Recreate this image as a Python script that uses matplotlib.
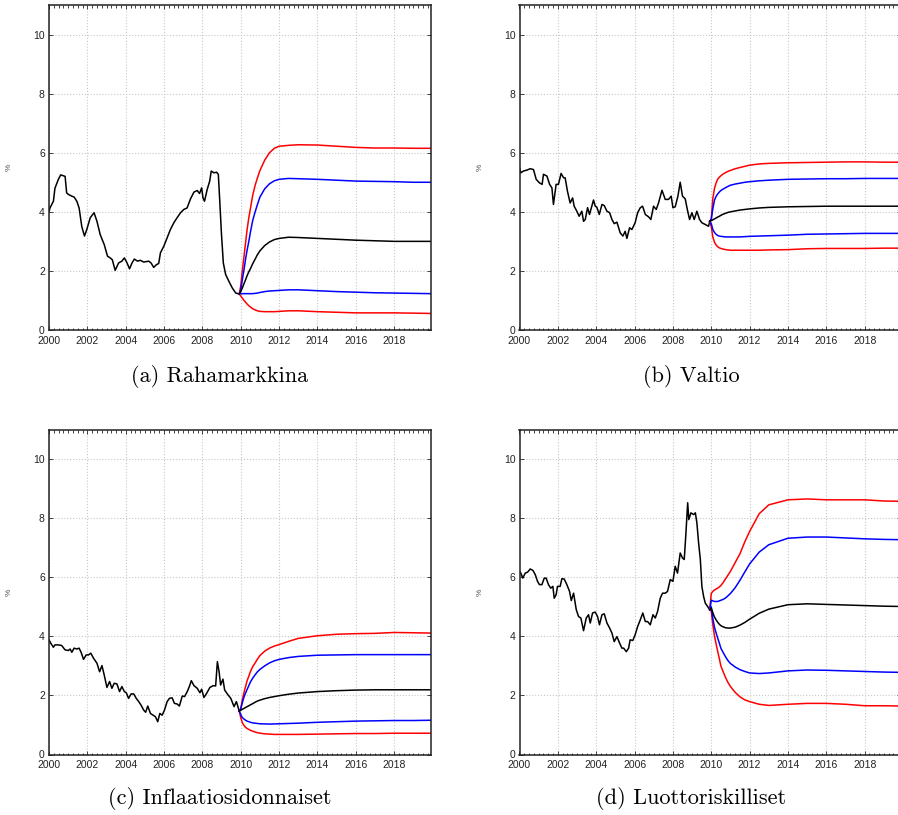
import matplotlib
matplotlib.use("Agg")
import matplotlib.pyplot as plt
from matplotlib.ticker import MultipleLocator

# Historialliset korot (vuosi, %)
hist_a = [(2000.0, 4.0), (2000.05, 4.13), (2000.23, 4.36), (2000.31, 4.8), (2000.49, 5.1),
          (2000.61, 5.25), (2000.84, 5.2), (2000.92, 4.64), (2001.01, 4.59), (2001.19, 4.53),
          (2001.31, 4.5), (2001.45, 4.36), (2001.57, 4.13), (2001.71, 3.5), (2001.85, 3.18),
          (2001.97, 3.4), (2002.15, 3.8), (2002.35, 3.97), (2002.5, 3.68), (2002.67, 3.23),
          (2002.88, 2.89), (2003.05, 2.5), (2003.19, 2.44), (2003.3, 2.38), (2003.45, 2.02),
          (2003.63, 2.27), (2003.8, 2.33), (2003.93, 2.44), (2004.07, 2.27), (2004.2, 2.07),
          (2004.33, 2.27), (2004.45, 2.4), (2004.62, 2.33), (2004.76, 2.36), (2004.94, 2.3),
          (2005.2, 2.33), (2005.32, 2.27), (2005.46, 2.12), (2005.6, 2.21), (2005.72, 2.25),
          (2005.81, 2.61), (2005.99, 2.84), (2006.16, 3.12), (2006.33, 3.4), (2006.51, 3.63),
          (2006.68, 3.8), (2006.86, 3.97), (2007.03, 4.08), (2007.2, 4.13), (2007.38, 4.44),
          (2007.56, 4.67), (2007.73, 4.72), (2007.85, 4.62), (2007.96, 4.81), (2008.03, 4.47),
          (2008.11, 4.36), (2008.25, 4.76), (2008.38, 5.04), (2008.46, 5.38), (2008.6, 5.32),
          (2008.74, 5.34), (2008.83, 5.27), (2008.9, 4.42), (2008.99, 3.29), (2009.09, 2.27),
          (2009.21, 1.88), (2009.38, 1.65), (2009.56, 1.42), (2009.74, 1.25), (2009.86, 1.23),
          (2009.92, 1.22)]

hist_b = [(2000.0, 5.49), (2000.07, 5.32), (2000.2, 5.38), (2000.38, 5.41), (2000.56, 5.46),
          (2000.73, 5.43), (2000.87, 5.1), (2001.04, 4.98), (2001.18, 4.93), (2001.25, 5.27),
          (2001.43, 5.21), (2001.57, 4.93), (2001.69, 4.81), (2001.77, 4.25), (2001.91, 4.93),
          (2002.03, 4.93), (2002.17, 5.3), (2002.3, 5.15), (2002.38, 5.15), (2002.5, 4.7),
          (2002.64, 4.3), (2002.77, 4.47), (2002.85, 4.19), (2002.99, 4.02), (2003.11, 3.85),
          (2003.25, 4.02), (2003.34, 3.68), (2003.43, 3.74), (2003.55, 4.14), (2003.65, 3.91),
          (2003.77, 4.19), (2003.86, 4.4), (2003.95, 4.19), (2004.03, 4.16), (2004.16, 3.91),
          (2004.3, 4.25), (2004.42, 4.21), (2004.56, 4.02), (2004.7, 3.97), (2004.82, 3.74),
          (2004.94, 3.6), (2005.08, 3.65), (2005.25, 3.29), (2005.39, 3.18), (2005.51, 3.34),
          (2005.6, 3.1), (2005.74, 3.46), (2005.86, 3.4), (2006.03, 3.63), (2006.16, 3.97),
          (2006.3, 4.14), (2006.42, 4.19), (2006.56, 3.91), (2006.73, 3.83), (2006.85, 3.74),
          (2006.99, 4.19), (2007.13, 4.08), (2007.25, 4.3), (2007.43, 4.73), (2007.6, 4.42),
          (2007.77, 4.42), (2007.91, 4.53), (2008.0, 4.14), (2008.12, 4.17), (2008.26, 4.53),
          (2008.38, 5.0), (2008.5, 4.53), (2008.64, 4.44), (2008.77, 4.02), (2008.87, 3.74),
          (2008.99, 3.97), (2009.11, 3.74), (2009.25, 4.02), (2009.39, 3.74), (2009.51, 3.63),
          (2009.69, 3.57), (2009.86, 3.51), (2009.92, 3.68)]

hist_c = [(2000.0, 3.88), (2000.09, 3.77), (2000.23, 3.63), (2000.31, 3.71), (2000.49, 3.71),
          (2000.66, 3.69), (2000.84, 3.54), (2001.01, 3.52), (2001.1, 3.57), (2001.19, 3.46),
          (2001.31, 3.6), (2001.45, 3.57), (2001.57, 3.6), (2001.68, 3.45), (2001.8, 3.22),
          (2001.94, 3.37), (2002.06, 3.37), (2002.18, 3.43), (2002.32, 3.26), (2002.5, 3.09),
          (2002.64, 2.8), (2002.76, 3.01), (2002.88, 2.69), (2003.02, 2.27), (2003.16, 2.47),
          (2003.28, 2.24), (2003.4, 2.41), (2003.54, 2.39), (2003.68, 2.13), (2003.8, 2.3),
          (2003.93, 2.13), (2004.03, 2.09), (2004.15, 1.9), (2004.28, 2.05), (2004.42, 2.05),
          (2004.55, 1.9), (2004.68, 1.79), (2004.8, 1.67), (2004.94, 1.5), (2005.04, 1.43),
          (2005.15, 1.64), (2005.29, 1.39), (2005.43, 1.33), (2005.55, 1.28), (2005.67, 1.11),
          (2005.78, 1.39), (2005.9, 1.33), (2006.02, 1.5), (2006.16, 1.79), (2006.28, 1.9),
          (2006.42, 1.92), (2006.54, 1.73), (2006.68, 1.71), (2006.8, 1.64), (2006.95, 1.98),
          (2007.07, 1.96), (2007.21, 2.13), (2007.33, 2.32), (2007.42, 2.5), (2007.56, 2.33),
          (2007.73, 2.24), (2007.87, 2.09), (2007.96, 2.21), (2008.08, 1.93), (2008.22, 2.07),
          (2008.39, 2.27), (2008.57, 2.33), (2008.69, 2.32), (2008.78, 3.14), (2008.87, 2.8),
          (2008.95, 2.35), (2009.07, 2.55), (2009.16, 2.18), (2009.3, 2.05), (2009.48, 1.9),
          (2009.65, 1.62), (2009.77, 1.79), (2009.88, 1.56), (2009.92, 1.47)]

hist_d = [(2000.0, 6.2), (2000.07, 6.14), (2000.17, 5.97), (2000.3, 6.14), (2000.42, 6.17),
          (2000.56, 6.28), (2000.7, 6.23), (2000.82, 6.09), (2000.94, 5.86), (2001.04, 5.75),
          (2001.17, 5.75), (2001.29, 5.97), (2001.39, 5.97), (2001.51, 5.75), (2001.63, 5.63),
          (2001.74, 5.69), (2001.81, 5.29), (2001.91, 5.41), (2001.98, 5.69), (2002.12, 5.69),
          (2002.21, 5.95), (2002.33, 5.94), (2002.47, 5.75), (2002.61, 5.52), (2002.7, 5.21),
          (2002.82, 5.46), (2002.96, 4.9), (2003.08, 4.67), (2003.2, 4.62), (2003.34, 4.19),
          (2003.48, 4.62), (2003.6, 4.73), (2003.69, 4.45), (2003.81, 4.79), (2003.95, 4.82),
          (2004.07, 4.67), (2004.17, 4.39), (2004.3, 4.73), (2004.42, 4.76), (2004.56, 4.45),
          (2004.7, 4.28), (2004.82, 4.11), (2004.94, 3.82), (2005.08, 3.99), (2005.22, 3.77),
          (2005.34, 3.6), (2005.43, 3.6), (2005.57, 3.48), (2005.69, 3.6), (2005.77, 3.88),
          (2005.91, 3.86), (2006.03, 4.05), (2006.16, 4.33), (2006.3, 4.56), (2006.43, 4.79),
          (2006.56, 4.5), (2006.68, 4.5), (2006.82, 4.39), (2006.96, 4.73), (2007.08, 4.62),
          (2007.2, 4.84), (2007.34, 5.29), (2007.46, 5.46), (2007.6, 5.46), (2007.72, 5.52),
          (2007.86, 5.92), (2008.0, 5.86), (2008.12, 6.37), (2008.24, 6.14), (2008.38, 6.82),
          (2008.5, 6.65), (2008.59, 6.6), (2008.68, 7.5), (2008.77, 8.52), (2008.83, 7.95),
          (2008.94, 8.18), (2009.08, 8.12), (2009.17, 8.18), (2009.25, 7.84), (2009.34, 7.16),
          (2009.43, 6.6), (2009.51, 5.69), (2009.6, 5.35), (2009.69, 5.12), (2009.81, 5.01),
          (2009.92, 4.9)]

# Ennusteen aikapisteet
fc_t = [2009.92, 2010.0, 2010.08, 2010.17, 2010.25, 2010.33, 2010.42, 2010.5, 2010.62,
        2010.75, 2010.87, 2011.0, 2011.25, 2011.5, 2011.75, 2012.0, 2012.5, 2013.0,
        2014.0, 2015.0, 2016.0, 2017.0, 2018.0, 2019.0, 2019.92]

# Ennusteet: mediaani, sisempi (sininen) ja ulompi (punainen) väli
fc_a = {
    "hi2": [1.22, 1.5, 2.0, 2.5, 2.95, 3.4, 3.8, 4.1, 4.55, 4.9, 5.15, 5.4, 5.75, 6.0, 6.15, 6.22,
            6.25, 6.27, 6.26, 6.22, 6.18, 6.16, 6.16, 6.15, 6.15],
    "hi1": [1.22, 1.35, 1.7, 2.05, 2.4, 2.7, 3.0, 3.3, 3.7, 4.0, 4.25, 4.5, 4.78, 4.95, 5.05, 5.1,
            5.13, 5.12, 5.1, 5.07, 5.04, 5.03, 5.02, 5.0, 5.0],
    "med": [1.22, 1.3, 1.42, 1.57, 1.7, 1.84, 1.97, 2.07, 2.24, 2.4, 2.55, 2.68, 2.86, 2.98, 3.06, 3.1,
            3.14, 3.13, 3.1, 3.07, 3.04, 3.02, 3.0, 3.0, 3.0],
    "lo1": [1.22, 1.23, 1.23, 1.23, 1.23, 1.23, 1.23, 1.23, 1.23, 1.24, 1.25, 1.27, 1.3, 1.32, 1.33, 1.34,
            1.36, 1.36, 1.33, 1.3, 1.28, 1.26, 1.25, 1.24, 1.23],
    "lo2": [1.22, 1.15, 1.08, 1.0, 0.94, 0.88, 0.82, 0.78, 0.72, 0.68, 0.65, 0.63, 0.62, 0.62, 0.62, 0.63,
            0.65, 0.65, 0.62, 0.6, 0.58, 0.58, 0.58, 0.57, 0.56],
}
fc_b = {
    "hi2": [3.68, 3.75, 4.45, 4.8, 4.97, 5.1, 5.17, 5.22, 5.28, 5.33, 5.37, 5.4, 5.46, 5.5, 5.54, 5.58,
            5.62, 5.64, 5.66, 5.67, 5.68, 5.69, 5.69, 5.68, 5.68],
    "hi1": [3.68, 3.75, 4.1, 4.4, 4.52, 4.6, 4.67, 4.72, 4.77, 4.82, 4.86, 4.9, 4.94, 4.97, 5.0, 5.02,
            5.05, 5.07, 5.1, 5.11, 5.12, 5.12, 5.13, 5.13, 5.13],
    "med": [3.68, 3.7, 3.73, 3.76, 3.79, 3.82, 3.85, 3.88, 3.92, 3.95, 3.98, 4.0, 4.03, 4.06, 4.08, 4.1,
            4.13, 4.15, 4.17, 4.18, 4.19, 4.19, 4.19, 4.19, 4.19],
    "lo1": [3.68, 3.6, 3.4, 3.3, 3.24, 3.2, 3.18, 3.17, 3.16, 3.15, 3.15, 3.15, 3.15, 3.15, 3.16, 3.17,
            3.18, 3.19, 3.21, 3.24, 3.25, 3.26, 3.27, 3.27, 3.27],
    "lo2": [3.68, 3.5, 3.15, 2.97, 2.88, 2.82, 2.78, 2.76, 2.74, 2.72, 2.71, 2.7, 2.7, 2.7, 2.7, 2.7,
            2.7, 2.71, 2.72, 2.75, 2.76, 2.76, 2.76, 2.77, 2.77],
}
fc_c = {
    "hi2": [1.47, 1.55, 1.85, 2.1, 2.3, 2.5, 2.65, 2.8, 2.97, 3.1, 3.23, 3.35, 3.5, 3.6, 3.67, 3.72,
            3.83, 3.93, 4.02, 4.07, 4.09, 4.1, 4.13, 4.12, 4.11],
    "hi1": [1.47, 1.55, 1.75, 1.95, 2.08, 2.2, 2.33, 2.45, 2.58, 2.7, 2.8, 2.88, 3.0, 3.1, 3.17, 3.22,
            3.28, 3.32, 3.36, 3.37, 3.38, 3.38, 3.38, 3.38, 3.38],
    "med": [1.47, 1.5, 1.53, 1.56, 1.59, 1.62, 1.65, 1.68, 1.72, 1.77, 1.81, 1.84, 1.89, 1.93, 1.96, 1.99,
            2.04, 2.08, 2.13, 2.16, 2.18, 2.19, 2.19, 2.19, 2.19],
    "lo1": [1.47, 1.35, 1.25, 1.2, 1.16, 1.13, 1.11, 1.09, 1.07, 1.06, 1.05, 1.04, 1.035, 1.03, 1.035, 1.04,
            1.05, 1.06, 1.09, 1.11, 1.13, 1.14, 1.15, 1.15, 1.16],
    "lo2": [1.47, 1.25, 1.08, 0.98, 0.92, 0.88, 0.85, 0.82, 0.79, 0.76, 0.74, 0.72, 0.7, 0.69, 0.68, 0.68,
            0.68, 0.68, 0.69, 0.7, 0.71, 0.71, 0.72, 0.72, 0.72],
}
fc_d = {
    "hi2": [4.9, 5.45, 5.52, 5.57, 5.6, 5.63, 5.67, 5.72, 5.82, 5.95, 6.07, 6.2, 6.5, 6.8, 7.2, 7.55,
            8.15, 8.45, 8.62, 8.65, 8.62, 8.62, 8.62, 8.58, 8.57],
    "hi1": [4.9, 5.22, 5.2, 5.18, 5.18, 5.18, 5.2, 5.22, 5.25, 5.3, 5.37, 5.45, 5.65, 5.9, 6.18, 6.45,
            6.85, 7.1, 7.32, 7.36, 7.36, 7.33, 7.3, 7.28, 7.27],
    "med": [4.9, 4.95, 4.8, 4.65, 4.56, 4.48, 4.41, 4.36, 4.32, 4.29, 4.28, 4.28, 4.31, 4.38, 4.47, 4.58,
            4.78, 4.92, 5.07, 5.1, 5.08, 5.06, 5.04, 5.02, 5.01],
    "lo1": [4.9, 5.0, 4.6, 4.3, 4.12, 3.95, 3.77, 3.6, 3.45, 3.3, 3.18, 3.08, 2.96, 2.87, 2.81, 2.76,
            2.74, 2.76, 2.83, 2.86, 2.85, 2.83, 2.81, 2.79, 2.78],
    "lo2": [4.9, 4.85, 4.4, 4.0, 3.75, 3.5, 3.25, 3.0, 2.8, 2.6, 2.44, 2.3, 2.1, 1.95, 1.85, 1.79,
            1.7, 1.66, 1.7, 1.73, 1.73, 1.7, 1.65, 1.65, 1.64],
}

captions = ["(a) Rahamarkkina", "(b) Valtio", "(c) Inflaatiosidonnaiset", "(d) Luottoriskilliset"]
histories = [hist_a, hist_b, hist_c, hist_d]
forecasts = [fc_a, fc_b, fc_c, fc_d]

W, H = 898, 815
fig = plt.figure(figsize=(W / 100, H / 100), dpi=100)

# akselien paikat pikseleinä: vasen, yläreuna
boxes = [(49, 5), (519.5, 5), (49, 429.5), (519.5, 429.5)]
cap_pos = [(220, 377), (691, 377), (220, 798), (691, 798)]
ax_w, ax_h = 382, 325

colors = {"hi2": "#ff0000", "hi1": "#0000ff", "med": "black", "lo1": "#0000ff", "lo2": "#ff0000"}

for i in range(4):
    x0, y0 = boxes[i]
    ax = fig.add_axes([x0 / W, 1 - (y0 + ax_h) / H, ax_w / W, ax_h / H])

    t, v = zip(*histories[i])
    ax.plot(t, v, color="black", lw=1.1)
    for key in ["lo2", "lo1", "hi2", "hi1", "med"]:
        ax.plot(fc_t, forecasts[i][key], color=colors[key], lw=1.1)

    ax.set_xlim(2000, 2019.92)
    ax.set_ylim(0, 11)
    ax.xaxis.set_major_locator(MultipleLocator(2))
    ax.xaxis.set_minor_locator(MultipleLocator(0.25))
    ax.set_yticks([0, 2, 4, 6, 8, 10])
    ax.grid(True, which="major", color="#c8c8c8", linestyle=":", linewidth=0.8)
    ax.tick_params(which="both", direction="in", top=True, right=True,
                   labelsize=7.5, width=0.6, colors="#222222")
    ax.tick_params(axis="x", pad=4)
    ax.tick_params(axis="y", pad=3)
    ax.tick_params(which="major", length=3)
    ax.tick_params(which="minor", length=1.8)
    for lab in ax.get_xticklabels() + ax.get_yticklabels():
        lab.set_fontfamily("Liberation Sans")
    for s in ax.spines.values():
        s.set_linewidth(1.1)
        s.set_color("#222222")

    ax.set_ylabel("%", fontsize=6, color="#555555", fontfamily="Liberation Sans")
    ax.yaxis.set_label_coords(-0.094, 0.5)

    cx, cy = cap_pos[i]
    fig.text(cx / W, 1 - cy / H, captions[i], ha="center", va="center",
             fontsize=16, fontfamily="cmr10")

fig.savefig("out.png", dpi=100)
